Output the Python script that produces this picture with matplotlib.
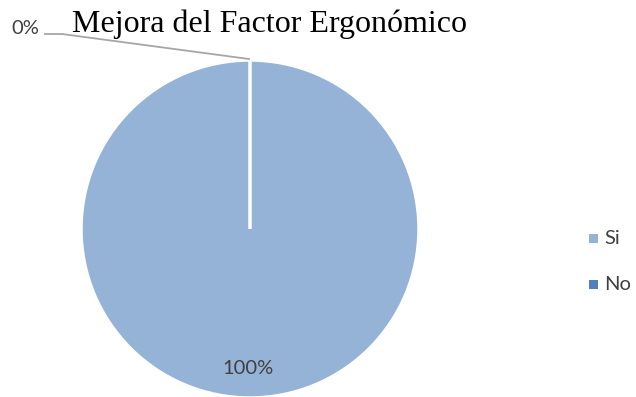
import matplotlib
matplotlib.use("Agg")
import matplotlib.pyplot as plt

categories = ["Si", "No"]
values = [100, 0]
colors = ["#95B3D7", "#4F81BD"]
title = "Mejora del Factor Ergonómico"

W, H = 636, 397
fig = plt.figure(figsize=(W / 100, H / 100), dpi=100)
ax = fig.add_axes([0, 0, 1, 1])

cx, cy, r = 250, H - 229, 169
wedges, _ = ax.pie(values, colors=colors, startangle=90, counterclock=False,
                   center=(cx, cy), radius=r,
                   wedgeprops=dict(edgecolor="white", linewidth=2.5))
ax.set_xlim(0, W)
ax.set_ylim(0, H)
ax.set_aspect("equal")
ax.axis("off")

total = sum(values)
pct = [f"{v / total * 100:.0f}%" for v in values]
label_font = dict(family=["Lato", "DejaVu Sans"], fontsize=14.5, color="#404040")

# big slice label inside the pie, near the bottom
ax.text(cx - 2, H - 369, pct[0], ha="center", va="center", **label_font)

# zero slice label with leader line to the top of the pie
ax.plot([45, 62, cx - 1], [H - 34, H - 34, H - 59], color="#A6A6A6", lw=1.3)
ax.text(39, H - 29, pct[1], ha="right", va="center", **label_font)

ax.text(269, H - 32, title, ha="center", va="baseline",
        family="Liberation Serif", fontsize=23, color="black")

# legend
for i, (c, lab) in enumerate(zip(colors, categories)):
    y = H - (238 + 46 * i)
    ax.add_patch(plt.Rectangle((589, y - 4.5), 9, 9, color=c, lw=0))
    ax.text(604, y, lab, ha="left", va="center", **label_font)

fig.savefig("out.png", dpi=100)
